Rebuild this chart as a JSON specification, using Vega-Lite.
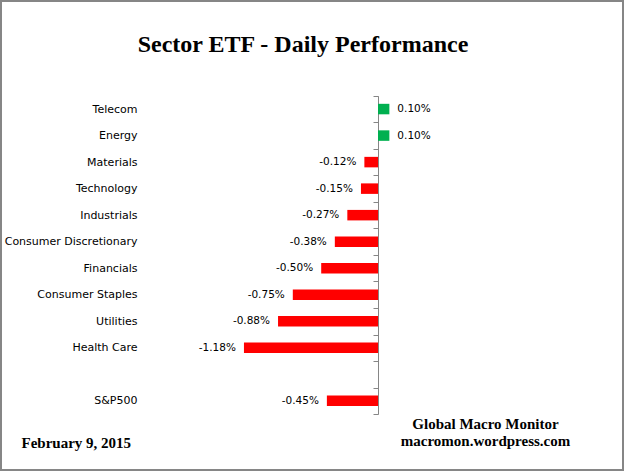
{
  "$schema": "https://vega.github.io/schema/vega-lite/v6.json",
  "width": 622,
  "height": 469,
  "autosize": {"type": "none"},
  "padding": {"left": 1, "top": 1, "right": 2, "bottom": 2},
  "background": "white",
  "config": {
    "view": {"stroke": "#868686", "strokeWidth": 2},
    "locale": {"number": {"decimal": ".", "thousands": ",", "grouping": [3], "currency": ["$", ""], "minus": "-"}}
  },
  "title": {
    "text": "Sector ETF - Daily  Performance",
    "font": "Liberation Serif",
    "fontSize": 24,
    "fontWeight": "bold",
    "color": "black",
    "anchor": "middle",
    "frame": "group",
    "baseline": "alphabetic",
    "offset": -81,
    "dx": -9
  },
  "data": {
    "values": [
      {"sector": "Telecom", "value": 0.0010},
      {"sector": "Energy", "value": 0.0010},
      {"sector": "Materials", "value": -0.0012},
      {"sector": "Technology", "value": -0.0015},
      {"sector": "Industrials", "value": -0.0027},
      {"sector": "Consumer Discretionary", "value": -0.0038},
      {"sector": "Financials", "value": -0.0050},
      {"sector": "Consumer Staples", "value": -0.0075},
      {"sector": "Utilities", "value": -0.0088},
      {"sector": "Health Care", "value": -0.0118},
      {"sector": "S&P500", "value": -0.0045}
    ]
  },
  "encoding": {
    "y": {
      "field": "sector",
      "type": "nominal",
      "scale": {
        "domain": ["Telecom", "Energy", "Materials", "Technology", "Industrials", "Consumer Discretionary", "Financials", "Consumer Staples", "Utilities", "Health Care", " ", "S&P500"],
        "range": [94.8, 413.1],
        "paddingInner": 0,
        "paddingOuter": 0
      },
      "axis": {
        "orient": "left",
        "offset": -377,
        "tickBand": "extent",
        "tickSize": 5,
        "tickColor": "#868686",
        "domainColor": "#868686",
        "domainWidth": 1,
        "labelPadding": 236,
        "labelFont": "DejaVu Sans",
        "labelFontSize": 11,
        "labelColor": "black",
        "title": "February 9,  2015",
        "titleAngle": 0,
        "titleX": -357,
        "titleY": 446,
        "titleAlign": "left",
        "titleBaseline": "alphabetic",
        "titleFont": "Liberation Serif",
        "titleFontSize": 15,
        "titleFontWeight": "bold",
        "titleColor": "black"
      }
    },
    "x": {
      "field": "value",
      "type": "quantitative",
      "scale": {"domain": [-0.033187, 0.021567], "nice": false, "zero": false},
      "axis": {
        "labels": false,
        "ticks": false,
        "domain": false,
        "grid": false,
        "title": ["Global Macro Monitor", "macromon.wordpress.com"],
        "titleX": 484,
        "titleY": -42,
        "titleAlign": "center",
        "titleBaseline": "alphabetic",
        "titleLineHeight": 17,
        "titleFont": "Liberation Serif",
        "titleFontSize": 15,
        "titleFontWeight": "bold",
        "titleColor": "black"
      }
    }
  },
  "layer": [
    {
      "mark": {"type": "bar", "height": 10.5},
      "encoding": {
        "x2": {"datum": 0},
        "color": {"condition": {"test": "datum.value > 0", "value": "#00B050"}, "value": "#FF0000"}
      }
    },
    {
      "transform": [{"filter": "datum.value < 0"}],
      "mark": {"type": "text", "align": "right", "baseline": "middle", "dx": -8, "font": "DejaVu Sans", "fontSize": 10.5, "color": "black"},
      "encoding": {"text": {"field": "value", "type": "quantitative", "format": ".2%"}}
    },
    {
      "transform": [{"filter": "datum.value > 0"}],
      "mark": {"type": "text", "align": "left", "baseline": "middle", "dx": 8, "font": "DejaVu Sans", "fontSize": 10.5, "color": "black"},
      "encoding": {"text": {"field": "value", "type": "quantitative", "format": ".2%"}}
    }
  ]
}
